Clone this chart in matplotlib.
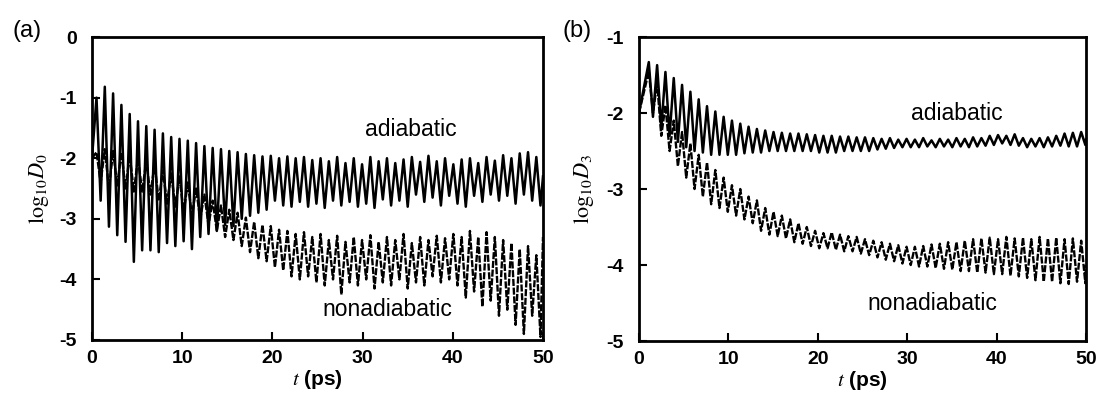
import numpy as np
import matplotlib
matplotlib.use("Agg")
import matplotlib.pyplot as plt

plt.rcParams['font.family'] = ['Liberation Sans', 'DejaVu Sans']
plt.rcParams['mathtext.fontset'] = 'stix'
plt.rcParams['axes.unicode_minus'] = False

# ---- panel (a): log10 D0, peaks / troughs of each oscillation cycle ----
# cycle grid: peaks at t = 0.5 + 0.92 k, troughs half a period later
a_t0, a_period = 0.5, 0.92

a_adia_peaks = [-1.0, -0.82, -0.93, -1.12, -1.27, -1.39, -1.47, -1.53, -1.59, -1.65,
                -1.68, -1.71, -1.75, -1.8, -1.83, -1.85, -1.88, -1.9, -1.93, -1.95,
                -1.97, -1.96, -2.0, -1.97, -2.0, -1.98, -2.03, -2.0, -2.05, -1.98,
                -2.08, -2.0, -2.1, -1.98, -2.05, -2.0, -2.08, -2.02, -1.98, -2.06,
                -1.96, -2.05, -2.0, -2.1, -2.02, -2.0, -2.08, -1.98, -2.04, -1.95,
                -2.0, -1.92, -1.9, -1.98]
a_adia_troughs = [-2.7, -3.13, -3.27, -3.38, -3.71, -3.52, -3.52, -3.55, -3.4, -3.45,
                  -3.37, -3.5, -3.3, -3.25, -3.2, -3.1, -3.12, -3.0, -2.95, -2.9,
                  -2.85, -2.7, -2.78, -2.8, -2.72, -2.8, -2.75, -2.82, -2.7, -2.78,
                  -2.72, -2.8, -2.75, -2.82, -2.68, -2.78, -2.7, -2.8, -2.6, -2.72,
                  -2.65, -2.78, -2.62, -2.75, -2.8, -2.62, -2.72, -2.6, -2.7, -2.62,
                  -2.75, -2.6, -2.7, -2.78]
a_adia_ends = [-2.0, -2.3]  # values at t=0 and t=50

a_non_peaks = [-1.9, -1.85, -1.88, -1.9, -1.95, -2.0, -2.05, -2.1, -2.2, -2.25,
               -2.3, -2.4, -2.5, -2.6, -2.7, -2.78, -2.85, -2.9, -2.98, -3.05,
               -3.1, -3.12, -3.18, -3.2, -3.25, -3.22, -3.3, -3.25, -3.35, -3.28,
               -3.38, -3.3, -3.35, -3.27, -3.38, -3.3, -3.35, -3.25, -3.4, -3.3,
               -3.35, -3.28, -3.32, -3.25, -3.3, -3.2, -3.3, -3.22, -3.3, -3.35,
               -3.4, -3.5, -3.45, -3.6]
a_non_troughs = [-2.4, -2.5, -2.45, -2.5, -2.55, -2.55, -2.6, -2.7, -2.75, -2.8,
                 -2.9, -2.95, -3.0, -3.1, -3.2, -3.3, -3.35, -3.45, -3.55, -3.65,
                 -3.7, -3.8, -3.85, -3.95, -4.0, -3.95, -4.05, -4.1, -4.0, -4.25,
                 -4.05, -4.1, -4.0, -4.15, -4.05, -4.1, -4.0, -4.15, -4.05, -4.1,
                 -3.95, -4.05, -4.0, -4.1, -4.3, -4.2, -4.45, -4.35, -4.6, -4.5,
                 -4.75, -4.9, -4.6, -4.95]
a_non_ends = [-2.0, -3.3]

# ---- panel (b): log10 D3 ----
b_t0, b_period = 1.1, 0.93

b_adia_peaks = [-1.33, -1.37, -1.46, -1.54, -1.63, -1.72, -1.82, -1.91, -1.98, -2.05,
                -2.1, -2.14, -2.18, -2.21, -2.23, -2.25, -2.26, -2.27, -2.27, -2.28,
                -2.29, -2.3, -2.3, -2.31, -2.31, -2.32, -2.32, -2.33, -2.34, -2.33,
                -2.35, -2.34, -2.35, -2.33, -2.36, -2.34, -2.35, -2.33, -2.34, -2.32,
                -2.33, -2.3, -2.29, -2.3, -2.28, -2.33, -2.34, -2.33, -2.32, -2.3,
                -2.27, -2.26, -2.25]
b_adia_troughs = [-2.05, -2.2, -2.3, -2.38, -2.45, -2.5, -2.52, -2.55, -2.55, -2.55,
                  -2.55, -2.53, -2.52, -2.52, -2.5, -2.5, -2.5, -2.5, -2.5, -2.5,
                  -2.52, -2.52, -2.52, -2.5, -2.5, -2.5, -2.5, -2.48, -2.47, -2.46,
                  -2.45, -2.45, -2.45, -2.44, -2.45, -2.44, -2.45, -2.44, -2.45, -2.44,
                  -2.43, -2.42, -2.4, -2.42, -2.43, -2.45, -2.44, -2.45, -2.44, -2.43,
                  -2.44, -2.44, -2.42]
b_adia_ends = [-2.0, -2.35]

b_non_peaks = [-1.45, -1.6, -1.9, -2.1, -2.25, -2.4, -2.55, -2.65, -2.75, -2.85,
               -2.95, -3.0, -3.1, -3.15, -3.25, -3.3, -3.35, -3.4, -3.45, -3.5,
               -3.55, -3.58, -3.57, -3.6, -3.62, -3.63, -3.66, -3.68, -3.7, -3.72,
               -3.74, -3.76, -3.76, -3.75, -3.73, -3.72, -3.7, -3.7, -3.68, -3.66,
               -3.65, -3.64, -3.66, -3.63, -3.65, -3.64, -3.66, -3.63, -3.65, -3.64,
               -3.66, -3.65, -3.68]
b_non_troughs = [-2.0, -2.3, -2.5, -2.7, -2.85, -3.0, -3.1, -3.2, -3.25, -3.3,
                 -3.35, -3.4, -3.45, -3.55, -3.6, -3.62, -3.65, -3.7, -3.72, -3.75,
                 -3.78, -3.78, -3.8, -3.82, -3.82, -3.85, -3.87, -3.9, -3.93, -3.95,
                 -3.98, -4.0, -4.02, -4.02, -4.04, -4.05, -4.06, -4.08, -4.08, -4.1,
                 -4.1, -4.12, -4.12, -4.14, -4.15, -4.17, -4.2, -4.22, -4.22, -4.24,
                 -4.25, -4.22, -4.24]
b_non_ends = [-2.0, -4.0]


def build_series(t0, period, peaks, troughs, ends):
    # interleave peak/trough values on the oscillation grid, add the end points
    n = len(peaks)
    t = [0.0]
    y = [ends[0]]
    for k in range(n):
        t.append(t0 + period * k)
        y.append(peaks[k])
        t.append(t0 + period * k + period / 2)
        y.append(troughs[k])
    t.append(50.0)
    y.append(ends[1])
    return np.array(t), np.array(y)


fig = plt.figure(figsize=(11.03, 4.05), dpi=100)
ax_a = fig.add_axes([0.0834, 0.1605, 0.4089, 0.748])
ax_b = fig.add_axes([0.5793, 0.158, 0.4053, 0.7506])

panels = [
    (ax_a, a_t0, a_period, a_adia_peaks, a_adia_troughs, a_adia_ends,
     a_non_peaks, a_non_troughs, a_non_ends, (-5, 0), r'$\mathrm{log}_{10}D_0$', '(a)',
     (35.3, -1.53), (32.7, -4.5), -0.09, 13),
    (ax_b, b_t0, b_period, b_adia_peaks, b_adia_troughs, b_adia_ends,
     b_non_peaks, b_non_troughs, b_non_ends, (-5, -1), r'$\mathrm{log}_{10}D_3$', '(b)',
     (35.6, -2.0), (32.8, -4.5), -0.095, 563),
]

for (ax, t0, per, ap, at, ae, nps, nt, ne, ylim, ylab, tag, pos_ad, pos_non,
     ylab_x, tag_x) in panels:
    t1, y1 = build_series(t0, per, ap, at, ae)
    t2, y2 = build_series(t0, per, nps, nt, ne)
    ax.plot(t2, y2, color='black', lw=1.7, ls=(0, (3.0, 0.7)))
    ax.plot(t1, y1, color='black', lw=1.8)

    ax.set_xlim(0, 50)
    ax.set_ylim(*ylim)
    ax.set_xticks([0, 10, 20, 30, 40, 50])
    ax.set_yticks(np.arange(ylim[0], ylim[1] + 1))
    ax.tick_params(direction='in', length=6, width=1.5, top=False, right=False,
                   labelsize=14)
    ax.tick_params(axis='y', pad=11)
    ax.tick_params(axis='x', pad=7)
    for lab in ax.get_xticklabels() + ax.get_yticklabels():
        lab.set_fontweight('bold')
    for sp in ax.spines.values():
        sp.set_linewidth(2)

    ax.set_ylabel(ylab, fontsize=16)
    ax.yaxis.set_label_coords(ylab_x, 0.5)
    ax.set_xlabel(r'$t$ (ps)', fontsize=15, fontweight='bold', labelpad=1)
    ax.text(pos_ad[0], pos_ad[1], 'adiabatic', fontsize=16.5, ha='center', va='center')
    ax.text(pos_non[0], pos_non[1], 'nonadiabatic', fontsize=16.5, ha='center', va='center')
    fig.text(tag_x / 1103, 1 - 31 / 405, tag, fontsize=17, ha='left', va='center')

fig.savefig('out.png', dpi=100)
